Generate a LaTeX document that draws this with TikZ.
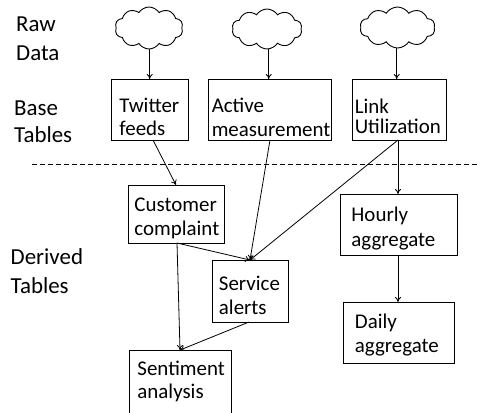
\documentclass[tikz,border=0pt]{standalone}
\usepackage{fontspec}
\setmainfont{Carlito}
\usetikzlibrary{shapes.symbols,arrows.meta}
\begin{document}
\begin{tikzpicture}[x=1bp,y=-1bp,
  every node/.style={font=\fontsize{21}{23.5}\selectfont},
  tbl/.style={draw,line width=0.9bp,align=left,anchor=north west,inner ysep=0pt},
  lbl/.style={align=left,anchor=base west,inner sep=0pt},
  cld/.style={draw,cloud,cloud puffs=10,cloud puff arc=115,aspect=1.7,inner sep=0pt,line width=0.9bp},
  arr/.style={-{To[length=5bp,width=6bp]},line width=0.8bp}]
\useasboundingbox (0,0) rectangle (477,412);
% labels (anchored at the baseline of the last line)
\node[lbl,font=\fontsize{23}{28.3}\selectfont] (raw) at (16,60) {Raw\\Data};
\node[lbl,font=\fontsize{23}{27.7}\selectfont] (base) at (14,142.7) {Base\\Tables};
\node[lbl,font=\fontsize{23}{29}\selectfont] (der) at (10.5,293.3) {Derived\\Tables};
% clouds
\node[cld,minimum width=68bp,minimum height=42bp] (c1) at (149,28) {};
\node[cld,minimum width=70bp,minimum height=40bp] (c2) at (267,29) {};
\node[cld,minimum width=75bp,minimum height=41bp] (c3) at (397.5,27.5) {};
% boxes
\node[tbl,minimum width=77bp,text width=60bp,inner xsep=8.5bp,text height=32.7bp,text depth=28.3bp] (tw) at (110.5,79) {Twitter\\feeds};
\node[tbl,minimum width=123bp,text width=117bp,inner xsep=3bp,text height=32.7bp,text depth=28.3bp,font=\fontsize{21}{24}\selectfont] (ac) at (208.3,79) {Active\\measurement};
\node[tbl,minimum width=94bp,text width=90bp,inner xsep=1.7bp,text height=33.7bp,text depth=27.3bp,font=\fontsize{21}{20}\selectfont] (li) at (352.3,79) {Link\\Utilization};
\node[tbl,minimum width=96bp,text width=84bp,inner xsep=6bp,text height=26.5bp,text depth=31.5bp] (cu) at (128,185) {Customer\\complaint};
\node[tbl,minimum width=117bp,text width=95bp,inner xsep=11bp,text height=27.5bp,text depth=33.5bp,font=\fontsize{21}{24.5}\selectfont] (ho) at (340,194) {Hourly\\aggregate};
\node[tbl,minimum width=76bp,text width=63bp,inner xsep=6.3bp,text height=30.5bp,text depth=31.5bp] (se) at (212,260) {Service\\alerts};
\node[tbl,minimum width=111bp,text width=88bp,inner xsep=11.5bp,text height=26.5bp,text depth=34.5bp] (da) at (343,302) {Daily\\aggregate};
\node[tbl,minimum width=102bp,text width=86bp,inner xsep=7.7bp,text height=25bp,text depth=40bp,font=\fontsize{21}{23}\selectfont] (sa) at (129,350) {Sentiment\\analysis};
% dashed separator
\coordinate (dl) at (32,164);
\coordinate (dr) at (477,164);
\draw[dash pattern=on 5bp off 3bp,line width=0.8bp] (dl) -- (dr);
% arrows
\coordinate (c1b) at (149.7,49);
\coordinate (c2b) at (268.7,49);
\coordinate (c3b) at (396.7,48);
\draw[arr] (c1b) -- (tw.north -| c1b);
\draw[arr] (c2b) -- (ac.north -| c2b);
\draw[arr] (c3b) -- (li.north -| c3b);
\coordinate (twb) at (153,140);
\coordinate (cut) at (176,185);
\coordinate (acb) at (270,140);
\coordinate (lib) at (398,140);
\coordinate (set) at (250,260);
\coordinate (cub) at (177,243);
\coordinate (sat) at (180,350);
\coordinate (seb) at (249,322);
\draw[arr] (twb) -- (cut);
\draw[arr] (acb) -- (set);
\draw[arr] (lib) -- (set);
\draw[arr] (lib) -- (ho.north -| lib);
\draw[arr] (cub) -- (sat);
\draw[arr] (cub) -- (set);
\draw[arr] (seb) -- (sat);
\draw[arr] (ho.south -| lib) -- (da.north -| lib);
\end{tikzpicture}
\end{document}
